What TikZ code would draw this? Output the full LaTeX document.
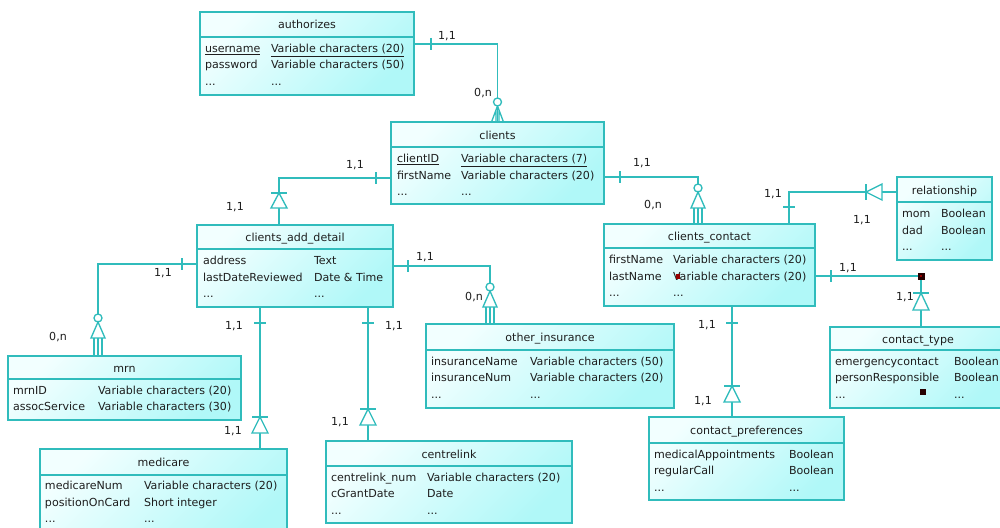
\documentclass[tikz,border=0pt]{standalone}
\usepackage{fontspec}
\setmainfont{DejaVu Sans}
\usetikzlibrary{fit,calc}
\definecolor{erline}{RGB}{48,188,188}
\definecolor{erfillA}{RGB}{242,255,255}
\definecolor{erfillB}{RGB}{176,248,248}
\definecolor{ertext}{RGB}{30,30,30}
\definecolor{ersq}{RGB}{40,0,0}
\definecolor{ersqr}{RGB}{150,0,0}
\newcommand\erfont{\fontsize{8.3}{10}\selectfont}
\tikzset{
  tblbox/.style={draw=erline, line width=1.1pt, inner sep=0pt, outer sep=0pt,
    top color=erfillA, bottom color=erfillB, shading angle=45},
  hdrline/.style={draw=erline, line width=1pt},
  cell/.style={anchor=base west, inner sep=0pt, outer sep=0pt, text=ertext, font=\erfont},
  ttl/.style={anchor=base, inner sep=0pt, outer sep=0pt, text=ertext, font=\erfont},
  lbl/.style={anchor=center, inner sep=0pt, outer sep=0pt, text=ertext, font=\erfont},
  conn/.style={draw=erline, line width=1pt},
  symb/.style={draw=erline, line width=1pt, fill=white},
}
% table: name L T R B H title
\newcommand\ertable[7]{%
  \node[tblbox, fit={(#2,#3) (#4,#5)}] (#1) {};
  \draw[hdrline] (#2,#6) -- (#4,#6);
  \node[ttl] (#1-title) at ({(#2+#4)/2},{(#3+#6)/2+4.5}) {#7};
}
% row: name id x1 x2 y a b
\newcommand\errow[7]{%
  \node[cell] (#1-#2a) at (#3,#5) {#6};
  \node[cell] (#1-#2b) at (#4,#5) {#7};
}
% tick across a horizontal line
\newcommand\barV[2]{\draw[conn] (#1,#2-6) -- (#1,#2+6);}
% tick across a vertical line
\newcommand\barH[2]{\draw[conn] (#1-6,#2) -- (#1+6,#2);}
% one: x, apex y, base y
\newcommand\oneDown[3]{%
  \draw[conn] (#1-8,#2) -- (#1+8,#2);
  \draw[symb] (#1,#2) -- (#1-8,#3) -- (#1+8,#3) -- cycle;}
% many: x, circle y, base y, box top y
\newcommand\manyDown[4]{%
  \draw[symb] (#1,#2) circle[radius=4];
  \draw[symb] (#1,#2+4) -- (#1-7,#3) -- (#1+7,#3) -- cycle;
  \draw[conn] (#1-4,#3) -- (#1-4,#4) (#1,#3) -- (#1,#4) (#1+4,#3) -- (#1+4,#4);}
\begin{document}
\begin{tikzpicture}[x=0.75pt,y=-0.75pt]
\clip (0,0) rectangle (1000,528);
\fill[white] (0,0) rectangle (1000,528);

% ---------- tables ----------
\ertable{authorizes}{200}{12}{414}{95}{37}{authorizes}
\errow{authorizes}{1}{205}{271}{52.5}{\underline{username}}{\underline{Variable characters (20)}}
\errow{authorizes}{2}{205}{271}{69}{password}{Variable characters (50)}
\errow{authorizes}{3}{205}{271}{85.5}{...}{...}

\ertable{clients}{391}{122}{604}{204}{147}{clients}
\errow{clients}{1}{397}{461}{162.5}{\underline{clientID}}{\underline{Variable characters (7)}}
\errow{clients}{2}{397}{461}{179}{firstName}{Variable characters (20)}
\errow{clients}{3}{397}{461}{195.5}{...}{...}

\ertable{detail}{197}{225}{393}{307}{249}{clients\_add\_detail}
\errow{detail}{1}{203}{314}{264.5}{address}{Text}
\errow{detail}{2}{203}{314}{281}{lastDateReviewed}{Date \& Time}
\errow{detail}{3}{203}{314}{297.5}{...}{...}

\ertable{contact}{604}{224}{815}{306}{248}{clients\_contact}
\errow{contact}{1}{609}{673}{263.5}{firstName}{Variable characters (20)}
\errow{contact}{2}{609}{673}{280}{lastName}{Variable characters (20)}
\errow{contact}{3}{609}{673}{296.5}{...}{...}

\ertable{relationship}{897}{177}{992}{260}{202}{relationship}
\errow{relationship}{1}{902}{941}{217.5}{mom}{Boolean}
\errow{relationship}{2}{902}{941}{234}{dad}{Boolean}
\errow{relationship}{3}{902}{941}{250.5}{...}{...}

\ertable{mrn}{8}{356}{241}{420}{379}{mrn}
\errow{mrn}{1}{13}{98}{394}{mrnID}{Variable characters (20)}
\errow{mrn}{2}{13}{98}{410.5}{assocService}{Variable characters (30)}

\ertable{other}{426}{324}{674}{408}{350}{other\_insurance}
\errow{other}{1}{431}{530}{365}{insuranceName}{Variable characters (50)}
\errow{other}{2}{431}{530}{381.5}{insuranceNum}{Variable characters (20)}
\errow{other}{3}{431}{530}{398}{...}{...}

\ertable{medicare}{40}{449}{287}{545}{475}{medicare}
\errow{medicare}{1}{45}{144}{489.5}{medicareNum}{Variable characters (20)}
\errow{medicare}{2}{45}{144}{506}{positionOnCard}{Short integer}
\errow{medicare}{3}{45}{144}{522.5}{...}{...}

\ertable{centrelink}{326}{441}{572}{523}{466}{centrelink}
\errow{centrelink}{1}{331}{427}{481}{centrelink\_num}{Variable characters (20)}
\errow{centrelink}{2}{331}{427}{497.5}{cGrantDate}{Date}
\errow{centrelink}{3}{331}{427}{514}{...}{...}

\ertable{prefs}{649}{417}{844}{500}{443}{contact\_preferences}
\errow{prefs}{1}{654}{789}{458}{medicalAppointments}{Boolean}
\errow{prefs}{2}{654}{789}{474.5}{regularCall}{Boolean}
\errow{prefs}{3}{654}{789}{491}{...}{...}

\ertable{ctype}{830}{327}{1006}{408}{350}{contact\_type}
\errow{ctype}{1}{835}{954}{365}{emergencycontact}{Boolean}
\errow{ctype}{2}{835}{954}{381.5}{personResponsible}{Boolean}
\errow{ctype}{3}{835}{954}{398}{...}{...}

% ---------- connectors ----------
\draw[conn] ($(authorizes.north east)+(0,32)$) -| (clients.north);
\draw[conn] ($(clients.north west)+(0,56)$) -| ($(detail.north west)+(82,0)$);
\draw[conn] ($(clients.north east)+(0,55)$) -| ($(contact.north west)+(94,0)$);
\draw[conn] ($(detail.north west)+(0,39)$) -| ($(mrn.north west)+(90,0)$);
\draw[conn] ($(detail.north east)+(0,41)$) -| ($(other.north west)+(64,0)$);
\draw[conn] ($(detail.south west)+(63,0)$) coordinate (c6) -- (c6 |- medicare.north);
\draw[conn] ($(detail.south west)+(171,0)$) coordinate (c7) -- (c7 |- centrelink.north);
\draw[conn] ($(contact.south west)+(128,0)$) coordinate (c8) -- (c8 |- prefs.north);
\draw[conn] ($(contact.north east)+(0,52)$) -| ($(ctype.north west)+(91,0)$);
\draw[conn] ($(relationship.north west)+(0,15)$) -| ($(contact.north west)+(185,0)$);

% ---------- cardinality symbols ----------
% authorizes - clients
\barV{431}{44}
\draw[symb] (497.5,102) circle[radius=4];
\draw[conn] (497.5,106) -- (491.5,122) (497.5,106) -- (503.5,122) (496,110) -- (496,122) (499,110) -- (499,122);
% clients - detail
\barV{376}{178}
\oneDown{279}{193}{208}
% clients - contact
\barV{620}{177}
\manyDown{698}{188}{208}{224}
% detail - mrn
\barV{182}{264}
\manyDown{98}{318}{338}{356}
% detail - other
\barV{408}{266}
\manyDown{490}{287}{307}{324}
% detail - medicare
\barH{260}{323}
\oneDown{260}{417}{433}
% detail - centrelink
\barH{368}{323}
\oneDown{368}{409}{425}
% contact - prefs
\barH{732}{323}
\oneDown{732}{386}{402}
% contact - ctype
\barV{831}{276}
\oneDown{921}{293}{310}
% contact - relationship
\barH{789}{207}
\draw[conn] (866,184) -- (866,200);
\draw[symb] (866,192) -- (882,184) -- (882,200) -- cycle;

% ---------- labels ----------
\node[lbl] (l1a) at (447,36) {1,1};
\node[lbl] (l1b) at (483,93) {0,n};
\node[lbl] (l2a) at (355,165) {1,1};
\node[lbl] (l2b) at (235,207) {1,1};
\node[lbl] (l3a) at (642,163) {1,1};
\node[lbl] (l3b) at (653,205) {0,n};
\node[lbl] (l4a) at (163,273) {1,1};
\node[lbl] (l4b) at (58,337) {0,n};
\node[lbl] (l5a) at (425,257) {1,1};
\node[lbl] (l5b) at (474,297) {0,n};
\node[lbl] (l6a) at (234,326) {1,1};
\node[lbl] (l6b) at (233,431) {1,1};
\node[lbl] (l7a) at (394,326) {1,1};
\node[lbl] (l7b) at (340,422) {1,1};
\node[lbl] (l8a) at (707,325) {1,1};
\node[lbl] (l8b) at (703,401) {1,1};
\node[lbl] (l9a) at (848,268) {1,1};
\node[lbl] (l9b) at (905,297) {1,1};
\node[lbl] (l10a) at (773,194) {1,1};
\node[lbl] (l10b) at (862,220) {1,1};

% ---------- selection marks ----------
\fill[ersq] (917.5,272.5) rectangle (924.5,279.5);
\fill[ersqr] (919.5,274.5) rectangle (921.5,276.5);
\fill[ersq] (920,388.5) rectangle (926,394.5);
\fill[ersqr] (676,274) rectangle (680,279);
\end{tikzpicture}
\end{document}
